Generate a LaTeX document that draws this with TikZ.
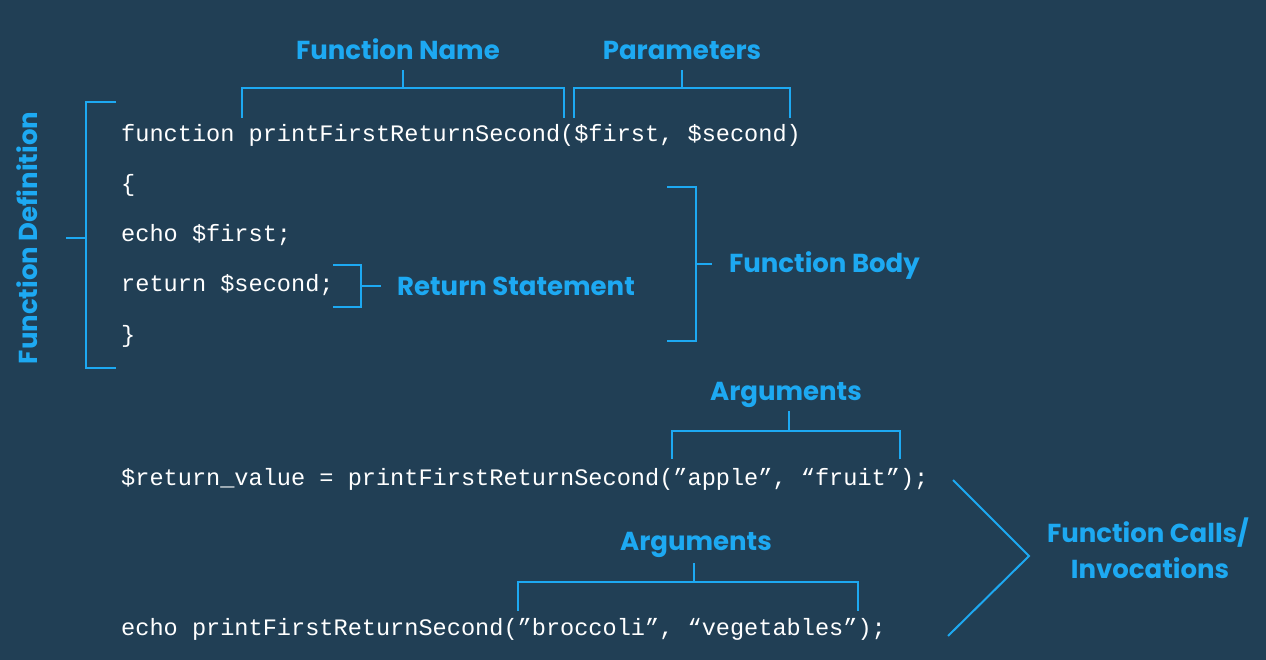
\documentclass[tikz,border=0pt]{standalone}
\usepackage{fontspec}
\setsansfont{Poppins}
\setmonofont{Liberation Mono}
\usetikzlibrary{positioning}
\definecolor{bg}{HTML}{213F55}
\definecolor{accent}{HTML}{1DA9F2}
\begin{document}
\begin{tikzpicture}[
        x = 1pt, y = -1pt,
        code/.style = {anchor=base west, inner sep=0pt, text=white, font=\fontsize{23.6}{28}\selectfont\ttfamily},
        lbl/.style = {anchor=base, inner sep=0pt, text=accent, font=\fontsize{26}{30}\selectfont\sffamily\bfseries},
        brk/.style = {draw=accent, line width=2pt}
    ]
    \fill[bg] (0,0) rectangle (1266,660);
    %--- Draw Code ---%
        \node (head) [code] at (121,142) {function printFirstReturnSecond(\$first, \$second)};
        \node (open) [code] at (121,192) {\{};
        \node (echo) [code] at (121,242) {echo \$first;};
        \node (ret) [code] at (121,292) {return \$second;};
        \node (close) [code] at (121,342) {\}};
        \node (callA) [code] at (121,485) {\$return\_value = printFirstReturnSecond(”apple”, “fruit”);};
        \node (callB) [code] at (121,635) {echo printFirstReturnSecond(”broccoli”, “vegetables”);};
    %--- Draw Labels ---%
        \node (name) [lbl] at (398,60) {Function Name};
        \node (params) [lbl] at (682,60) {Parameters};
        \node (def) [lbl, rotate=90] at (37,238) {Function Definition};
        \node (body) [lbl, anchor=base west] at (729,273) {Function Body};
        \node (retst) [lbl, anchor=base west] at (397,295) {Return Statement};
        \node (argsA) [lbl] at (786,400) {Arguments};
        \node (argsB) [lbl] at (696,550) {Arguments};
        \node (calls) [lbl] at (1148,542) {Function Calls/};
        \node (invoc) [lbl] at (1150,578) {Invocations};
    %--- Draw Brackets ---%
        \draw[brk] (242,118) -- (242,88) -- (564,88) -- (564,118);
        \draw[brk] (403,88) -- (403,70);
        \draw[brk] (574,118) -- (574,88) -- (790,88) -- (790,118);
        \draw[brk] (682,88) -- (682,70);
        \draw[brk] (116,102) -- (86,102) -- (86,368) -- (116,368);
        \draw[brk] (86,238) -- (66,238);
        \draw[brk] (667,187) -- (696,187) -- (696,341) -- (667,341);
        \draw[brk] (696,264) -- (712,264);
        \draw[brk] (333,265) -- (361,265) -- (361,307) -- (333,307);
        \draw[brk] (361,286) -- (381,286);
        \draw[brk] (672,459) -- (672,431) -- (900,431) -- (900,459);
        \draw[brk] (789,431) -- (789,411);
        \draw[brk] (518,611) -- (518,582) -- (858,582) -- (858,611);
        \draw[brk] (694,582) -- (694,563);
        \draw[brk] (953,480) -- (1029,556) -- (948,636);
\end{tikzpicture}
\end{document}
